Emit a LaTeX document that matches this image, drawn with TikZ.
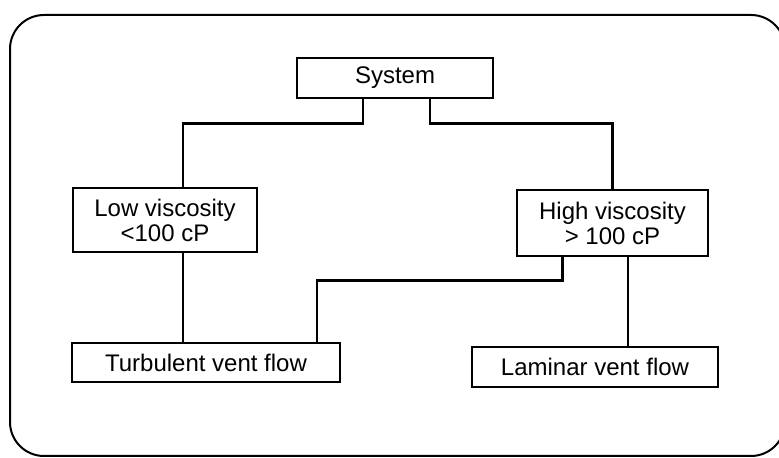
\documentclass[tikz,border=0pt]{standalone}
\usepackage{fontspec}
\setmainfont{Liberation Sans}
\usetikzlibrary{positioning}

\begin{document}
\begin{tikzpicture}[
  x=0.5pt, y=0.5pt,
  box/.style={rectangle, draw, line width=1.2pt, inner sep=0pt, align=center,
              font=\fontsize{12}{12.5}\selectfont},
  link/.style={line width=1.4pt},
  frame/.style={line width=1pt, rounded corners=17pt}
]
  \useasboundingbox (0,0) rectangle (779,458);
  \draw[frame] (10,2) rectangle (785,443);

  \node[box, minimum width=98pt, minimum height=20pt] (system) at (395,380) {System};
  \node[box, minimum width=92pt, minimum height=32pt] (low) at (165,238) {Low viscosity\\<100 cP};
  \node[box, minimum width=95.5pt, minimum height=33pt] (high) at (612.5,235) {High viscosity\\> 100 cP};
  \node[box, minimum width=134pt, minimum height=19.5pt] (turb) at (206,95.5) {Turbulent vent flow};
  \node[box, minimum width=123pt, minimum height=20pt] (lam) at (595,91) {Laminar vent flow};

  \draw[link] ([xshift=-16pt]system.south) -- ++(0,-24) -| ([xshift=9pt]low.north);
  \draw[link] ([xshift=17.5pt]system.south) -- ++(0,-24) -| (high.north);
  \draw[link] ([xshift=9pt]low.south) -- ([xshift=9pt]low.south |- turb.north);
  \draw[link] ([xshift=-25pt]high.south) -- ++(0,-23) -| ([xshift=55.5pt]turb.north);
  \draw[link] ([xshift=7.75pt]high.south) -- ([xshift=7.75pt]high.south |- lam.north);
\end{tikzpicture}
\end{document}
